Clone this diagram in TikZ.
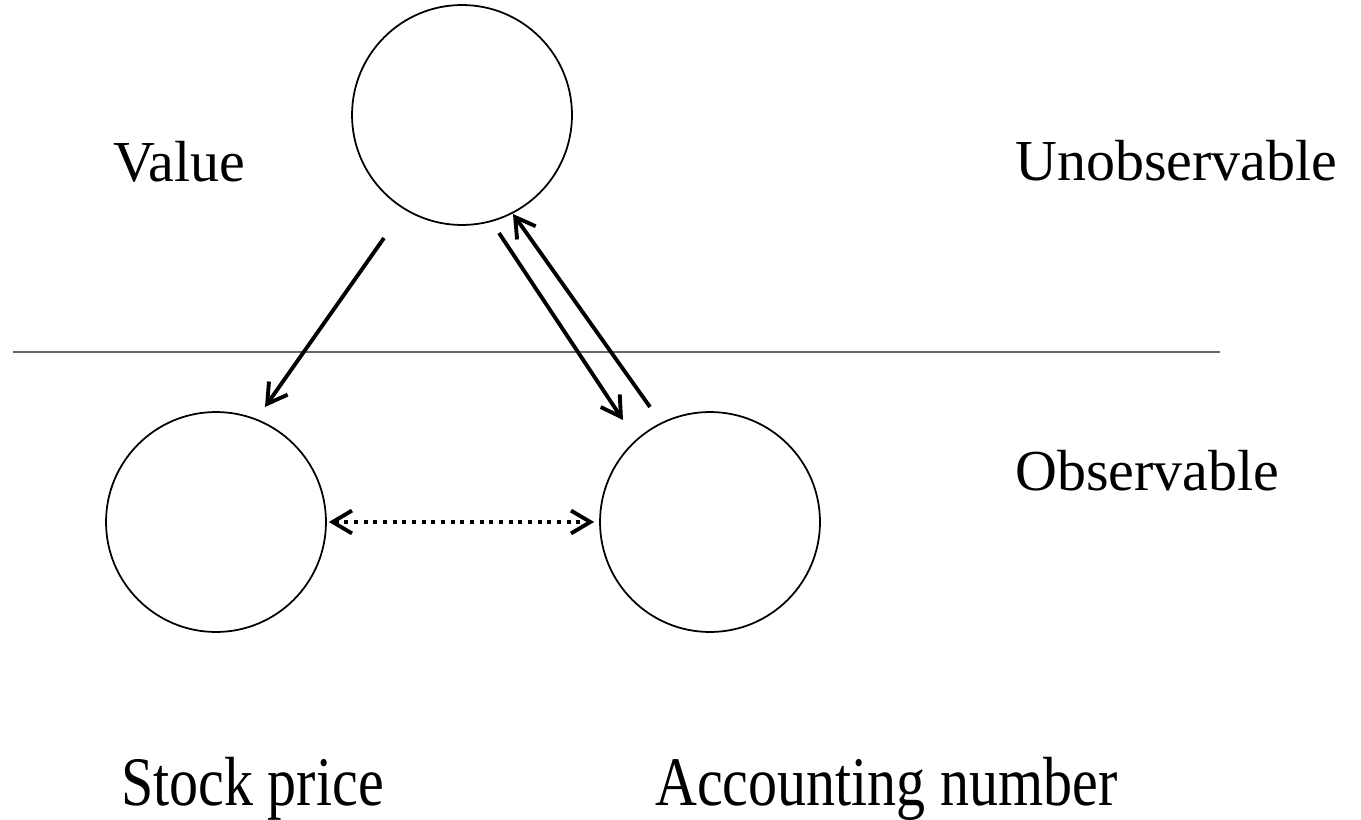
\documentclass[tikz,border=0pt]{standalone}
\usepackage{fontspec}
\setmainfont{Liberation Serif}
\usetikzlibrary{arrows.meta}

\begin{document}
\begin{tikzpicture}[x=0.02cm,y=-0.02cm,
  ball/.style={circle,draw,line width=1pt,minimum size=4.4cm,inner sep=0pt},
  lbl/.style={anchor=base west,inner sep=0pt,font=\fontsize{33}{40}\selectfont},
  arr/.style={line width=2.2pt,-{Straight Barb[length=11pt,width=13pt]}},
  dotarr/.style={line width=2.2pt,dash pattern=on 2.3pt off 3.2pt,
    {Straight Barb[length=11pt,width=13pt]}-{Straight Barb[length=11pt,width=13pt]}}]
  \useasboundingbox (0,0) rectangle (1361,820);
  % the three circles
  \node[ball] (value) at (462,115) {};
  \node[ball] (price) at (216,522) {};
  \node[ball] (acct) at (710,522) {};
  % observable / unobservable border
  \coordinate (bl) at (13,352);
  \coordinate (br) at (1220,352);
  \draw[line width=0.6pt,black!60] (bl) -- (br);
  % labels
  \node[lbl] (vlbl) at (113,182) {Value};
  \node[lbl] (ulbl) at (1015,181) {Unobservable};
  \node[lbl] (olbl) at (1015,490) {Observable};
  \node[lbl] (plbl) at (121,805) {\scalebox{1}[1.2]{Stock price}};
  \node[lbl] (albl) at (655,805) {\scalebox{1}[1.2]{Accounting number}};
  % arrows
  \foreach \name/\x/\y in {v1/384/238, p1/265/407, v2/499/233, a2/623/420, a3/650/407, v3/513/214}
    \coordinate (\name) at (\x,\y);
  \draw[arr] (v1) -- (p1);
  \draw[arr] (v2) -- (a2);
  \draw[arr] (a3) -- (v3);
  \draw[dotarr,shorten <=0.04cm,shorten >=0.1cm] (price) -- (acct);
\end{tikzpicture}
\end{document}
